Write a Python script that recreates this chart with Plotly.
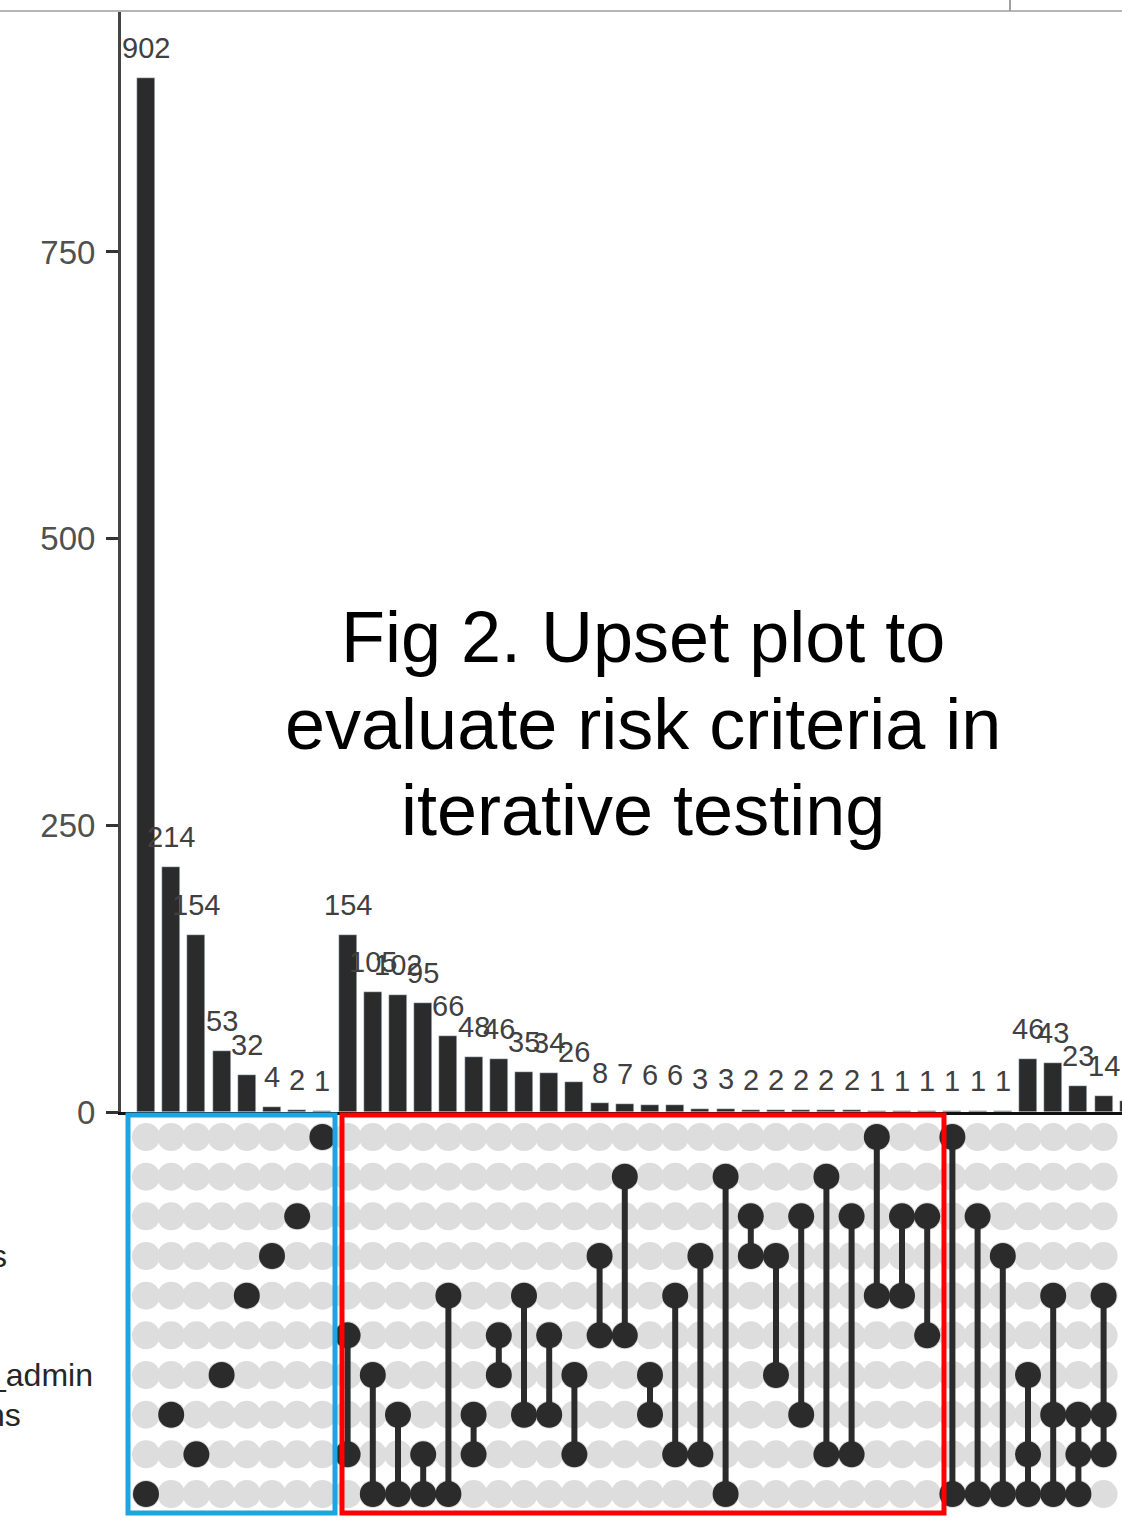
import plotly.graph_objects as go

# ---------------- data ----------------
counts = [902, 214, 154, 53, 32, 4, 2, 1,
          154, 105, 102, 95, 66, 48, 46, 35, 34, 26, 8, 7, 6, 6, 3, 3,
          2, 2, 2, 2, 2, 1, 1, 1, 1, 1, 1, 46, 43, 23, 14, 10]

members = [[9], [7], [8], [6], [4], [3], [2], [0],
           [5, 8], [6, 9], [7, 9], [8, 9], [4, 9], [7, 8], [5, 6], [4, 7],
           [5, 7], [6, 8], [3, 5], [1, 5], [6, 7], [4, 8], [3, 8], [1, 9],
           [2, 3], [3, 6], [2, 7], [1, 8], [2, 8], [0, 4], [2, 4], [2, 5],
           [0, 9], [2, 9], [3, 9], [6, 8, 9], [4, 7, 9], [7, 8, 9], [4, 7, 8],
           [5, 6, 8]]

n_sets = 10
set_labels = {3: "s", 6: "_admin", 7: "ns"}          # visible fragments of cropped set names
set_label_px = {3: 9, 6: 95, 7: 23}

y_ticks = [0, 250, 500, 750]
title_lines = ["Fig 2. Upset plot to", "evaluate risk criteria in", "iterative testing"]

# ---------------- figure ----------------
W, H = 1122, 1523
ML = 121
BAR_TOP_PX, BAR_BOT_PX = 12, 1112
X0_PX, STEP_PX = 146, 25.2

def py(px):  # pixel y -> paper y
    return (H - px) / H

def pxx(px):  # pixel x -> paper x
    return (px - ML) / (W - ML)

def xcol(px):  # pixel x -> column coordinate
    return (px - X0_PX) / STEP_PX

DARK = "#2b2b2b"
cols = list(range(len(counts)))

fig = go.Figure()

fig.add_trace(go.Bar(x=cols, y=counts, marker_color=DARK, width=0.71,
                     xaxis="x", yaxis="y", showlegend=False, hoverinfo="skip"))

# matrix background dots
gx, gy = [], []
for c in cols:
    for r in range(n_sets):
        gx.append(c); gy.append(r)
fig.add_trace(go.Scatter(x=gx, y=gy, mode="markers", xaxis="x2", yaxis="y2",
                         marker=dict(size=28, color="#dddddd"), cliponaxis=False,
                         showlegend=False, hoverinfo="skip"))

# connecting lines
lx, ly = [], []
for c, m in zip(cols, members):
    if len(m) > 1:
        lx += [c, c, None]
        ly += [min(m), max(m), None]
fig.add_trace(go.Scatter(x=lx, y=ly, mode="lines", xaxis="x2", yaxis="y2",
                         line=dict(color=DARK, width=6),
                         showlegend=False, hoverinfo="skip"))

# filled dots
dx, dy = [], []
for c, m in zip(cols, members):
    for r in m:
        dx.append(c); dy.append(r)
fig.add_trace(go.Scatter(x=dx, y=dy, mode="markers", xaxis="x2", yaxis="y2",
                         marker=dict(size=26, color=DARK),
                         showlegend=False, hoverinfo="skip"))

xrange = [xcol(ML), xcol(W)]
split = py(BAR_BOT_PX)

annotations = []
for c, v in zip(cols, counts):
    annotations.append(dict(x=c, y=v, xref="x", yref="y", text=str(v),
                            showarrow=False, yanchor="bottom", yshift=12,
                            font=dict(size=29, color="#404040")))
for r, t in set_labels.items():
    annotations.append(dict(x=pxx(set_label_px[r]), y=r, xref="paper", yref="y2",
                            text=t, showarrow=False, xanchor="right",
                            font=dict(size=32, color="#262626")))
for i, t in enumerate(title_lines):
    annotations.append(dict(x=pxx(643), y=py(637 + 86.5 * i), xref="paper", yref="paper",
                            text=t, showarrow=False, xanchor="center", yanchor="middle",
                            font=dict(size=72, color="#000000")))

box_y0, box_y1 = (1115 - 1137) / 39.67, (1513 - 1137) / 39.67
shapes = [
    dict(type="rect", xref="x2", yref="y2", x0=xcol(128), x1=xcol(335), y0=box_y0, y1=box_y1,
         line=dict(color="#1ea4e0", width=5), layer="above"),
    dict(type="rect", xref="x2", yref="y2", x0=xcol(342), x1=xcol(944), y0=box_y0, y1=box_y1,
         line=dict(color="#ff0000", width=5), layer="above"),
    dict(type="line", xref="paper", yref="paper", x0=pxx(0), x1=1, y0=py(11), y1=py(11),
         line=dict(color="#b5b5b5", width=2)),
    dict(type="line", xref="paper", yref="paper", x0=pxx(1010), x1=pxx(1010), y0=py(11), y1=1,
         line=dict(color="#a0a0a0", width=2)),
]

fig.update_layout(
    width=W, height=H,
    margin=dict(l=ML, r=0, t=0, b=0, pad=0, autoexpand=False),
    paper_bgcolor="white", plot_bgcolor="white",
    font=dict(family="Liberation Sans, Arial, sans-serif"),
    showlegend=False,
    bargap=0,
    xaxis=dict(domain=[0, 1], range=xrange, showticklabels=False, ticks="",
               showgrid=False, zeroline=False, showline=True, linecolor="#111111",
               linewidth=3, anchor="y", automargin=False),
    yaxis=dict(domain=[split, py(BAR_TOP_PX)], range=[0, (BAR_BOT_PX - BAR_TOP_PX) / 1.1467],
               tickvals=y_ticks, ticks="outside", ticklen=12, tickwidth=3, tickcolor="#333333",
               tickfont=dict(size=33, color="#505050"), ticklabelstandoff=4,
               showgrid=False, zeroline=False, automargin=False,
               showline=True, linecolor="#444444", linewidth=3, anchor="x"),
    xaxis2=dict(domain=[0, 1], range=xrange, showticklabels=False, ticks="", visible=False,
                showgrid=False, zeroline=False, showline=False, anchor="y2", automargin=False),
    yaxis2=dict(domain=[0, split], range=[(H - 1137) / 39.67, (BAR_BOT_PX - 1137) / 39.67],
                showticklabels=False, ticks="", showgrid=False, zeroline=False, visible=False,
                showline=False, anchor="x2", automargin=False),
    annotations=annotations,
    shapes=shapes,
)

fig.write_html(
    "out.html",
    config={"displayModeBar": False},
    post_script="document.body.style.margin='0';",
)
